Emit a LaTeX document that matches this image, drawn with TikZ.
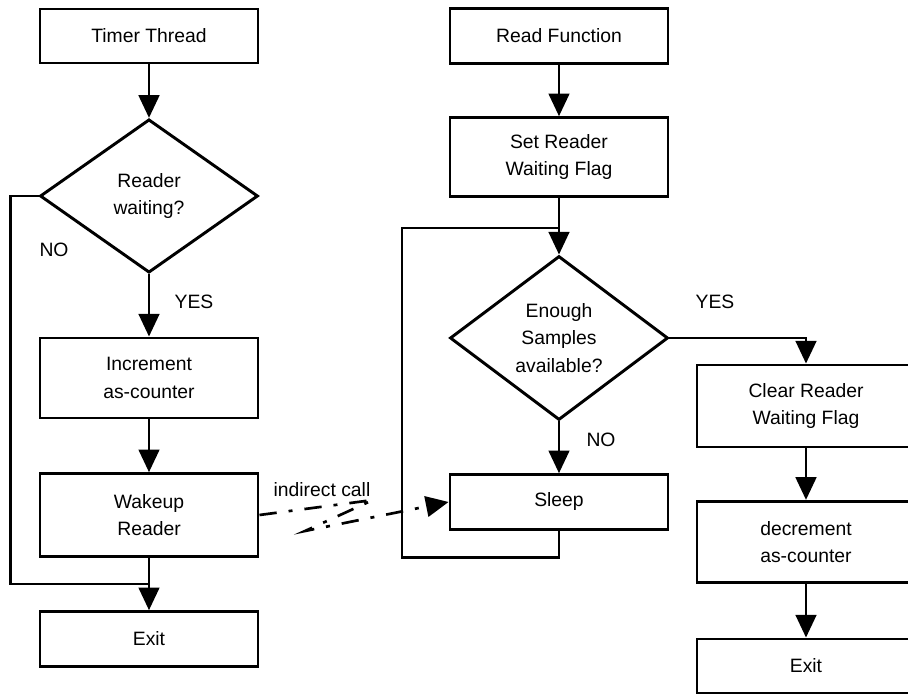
\documentclass[tikz,border=0pt]{standalone}
\usepackage{fontspec}
\setmainfont{Liberation Sans}
\usetikzlibrary{shapes.geometric,arrows.meta}

\tikzset{
  block/.style={draw, line width=2.2pt, minimum width=163.5pt, inner sep=0pt},
  test/.style={draw, diamond, line width=2.2pt, minimum width=163.5pt, inner sep=0pt},
  wire/.style={line width=2pt},
  flow/.style={wire, -{Triangle[width=15.5pt,length=17pt]}},
  call/.style={line width=2pt, dash pattern=on 13pt off 9pt on 3pt off 9pt,
    -{Triangle[width=15.5pt,length=17pt]}}
}

\begin{document}
\begin{tikzpicture}[x=0.75pt,y=-0.75pt,
    every node/.append style={font=\fontsize{14.5}{20.5}\selectfont, align=center}]
  \useasboundingbox (0,0) rectangle (908,695);
  \clip (0,0) rectangle (908,695);

  % timer thread
  \node[block, minimum height=40.5pt] (timer) at (149,36) {Timer Thread};
  \node[test, minimum height=115pt] (waiting) at (149,196) {Reader\\waiting?};
  \node[block, minimum height=60pt] (incr) at (149,378) {Increment\\as-counter};
  \node[block, minimum height=62pt] (wake) at (149,515) {Wakeup\\Reader};
  \node[block, minimum height=41pt] (exitL) at (149,639) {Exit};
  \coordinate (joinL) at (149,584);

  \draw[flow] (timer) -- (waiting);
  \draw[flow] (waiting) -- (incr);
  \draw[flow] (incr) -- (wake);
  \draw[flow] (wake) -- (exitL);
  \draw[wire] (waiting.west) -- ++(-28,0) |- (joinL);
  \node (noL) at (54,250) {NO};
  \node (yesL) at (194,302) {YES};

  % read function
  \node[block, minimum height=41pt] (readf) at (559,36) {Read Function};
  \node[block, minimum height=59pt] (setf) at (559,157) {Set Reader\\Waiting Flag};
  \node[test, minimum height=123pt] (enough) at (559,338) {Enough\\Samples\\available?};
  \node[block, minimum height=41pt] (sleep) at (559,502) {Sleep};
  \coordinate (joinM) at (559,228);

  \draw[flow] (readf) -- (setf);
  \draw[flow] (setf) -- (enough);
  \draw[flow] (enough) -- (sleep);
  \draw[wire] (sleep.south) -- ++(0,27) -| (402,228) -- (joinM);
  \node (noM) at (601,440) {NO};
  \node (yesM) at (715,302) {YES};

  % reader woken
  \node[block, minimum height=61.5pt] (clear) at (806,406) {Clear Reader\\Waiting Flag};
  \node[block, minimum height=61pt] (decr) at (806,542) {decrement\\as-counter};
  \node[block, minimum height=40.5pt] (exitR) at (806,666) {Exit};

  \draw[flow] (enough.east) -| (clear.north);
  \draw[flow] (clear) -- (decr);
  \draw[flow] (decr) -- (exitR);

  % indirect call
  \draw[call] (wake.east) -- (373,500) -- (305,531) -- (sleep.west);
  \node (callLbl) at (322,490) {indirect call};
\end{tikzpicture}
\end{document}
